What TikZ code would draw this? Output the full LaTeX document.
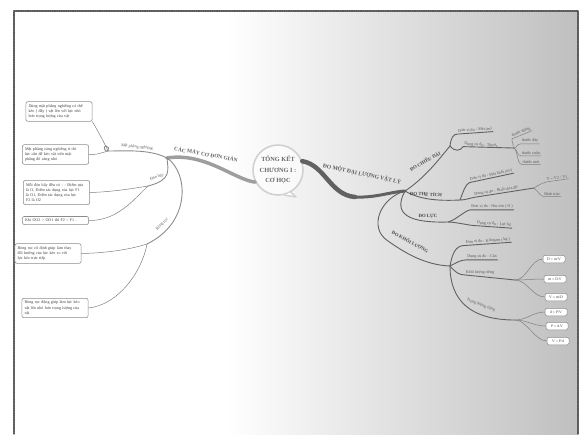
\documentclass[tikz,border=0pt]{standalone}
\usepackage{fontspec}
\setmainfont{Liberation Serif}
\begin{document}
\begin{tikzpicture}[x=1pt, y=-1pt, line join=round, line cap=round,
    ghichu/.style={draw=black!45, fill=white, rounded corners=2pt, line width=0.6pt, text width=61pt, align=left, inner sep=2.6pt, font=\fontsize{4.1}{5.3}\selectfont, text=black!75},
    congthuc/.style={draw=black!45, fill=white, rounded corners=1.5pt, line width=0.5pt, inner sep=1.5pt, minimum width=22pt, minimum height=7.5pt, font=\fontsize{3.8}{4}\selectfont, text=black!75},
    nhanh/.style={font=\fontsize{4.8}{5}\selectfont\bfseries, text=black!72, inner sep=0.6pt},
    nhan/.style={font=\fontsize{4.1}{4.6}\selectfont, text=black!65, inner sep=0.8pt},
    duong/.style={draw=black!62, line width=0.9pt},
    la/.style={draw=black!50, line width=0.5pt}]
    \useasboundingbox (0,0) rectangle (580,434);
    \shade[left color=white, right color=black!25] (225,11) rectangle (578,434);
    \draw[black!65, line width=1.3pt, dash pattern=on 1pt off 0.8pt] (14,434) -- (14,11) -- (578,11) -- (578,434);

    \node[circle, draw=black!18, line width=1.6pt, fill=white, fill opacity=0.6, text opacity=1, minimum size=50pt, inner sep=0pt, align=center, font=\fontsize{6.3}{10.5}\selectfont\bfseries, text=black!60] (goc) at (278,170) {TỔNG KẾT\\CHƯƠNG I :\\CƠ HỌC};
    \draw[black!18, line width=1.4pt, fill=white] (goc.-60) -- (296,197) -- (goc.-76);

    % cac may co don gian
    \coordinate (trai) at (167,158);
    \draw[black!38, line width=3.5pt] (goc.208) .. controls (235,180) and (205,152) .. (trai);
    \node[nhanh, font=\fontsize{5.4}{6}\selectfont\bfseries, text=black!62, rotate=-10] (maycdg) at (206,154) {CÁC MÁY CƠ ĐƠN GIẢN};

    \node[ghichu] (hop1) at (59,111.5) {Dùng mặt phẳng nghiêng có thể\\kéo ( đẩy ) vật lên với lực nhỏ\\hơn trọng lượng của vật};
    \node[ghichu] (hop2) at (55.5,154.5) {Mặt phẳng càng nghiêng ít thì\\lực cần để kéo vật trên mặt\\phẳng đó càng nhỏ};
    \node[ghichu] (hop3) at (56.5,192.5) {Mỗi đòn bẩy đều có : - Điểm tựa\\là O, Điểm tác dụng của lực F1\\là O1, Điểm tác dụng của lực\\F2 là O2};
    \node[ghichu] (hop4) at (55.5,220.5) {Khi OO2 > OO1 thì F2 < F1 .};
    \node[ghichu] (hop5) at (48,253.5) {Ròng rọc cố định giúp làm thay\\đổi hướng của lực kéo so với\\lực kéo trực tiếp};
    \node[ghichu] (hop6) at (55,308) {Ròng rọc động giúp làm lực kéo\\vật lên nhỏ hơn trọng lượng của\\vật};

    \coordinate (mpn) at (108,151);
    \draw[duong, draw=black!45] (trai) .. controls (150,149) and (125,151) .. (mpn);
    \draw[duong, draw=black!45] (mpn) .. controls (104,152) and (103,146) .. (106,146) .. controls (108.5,146) and (109.5,149) .. (mpn);
    \node[nhan, rotate=-6] (mpnl) at (137,147) {Mặt phẳng nghiêng};
    \draw[la] (mpn) .. controls (102,138) and (96,128) .. (hop1.south east);
    \draw[la] (mpn) .. controls (98,154) and (94,155) .. (hop2.east);

    \coordinate (db) at (148,186);
    \draw[duong, draw=black!45] (trai) .. controls (168,170) and (172,180) .. (db);
    \node[nhan, rotate=18] (dbl) at (157,177) {Đòn bẩy};
    \draw[la] (db) .. controls (130,189) and (110,192) .. (hop3.east);
    \draw[la] (db) .. controls (135,198) and (118,221) .. (hop4.east);

    \coordinate (rr) at (147,244);
    \draw[duong, draw=black!45] (trai) .. controls (188,172) and (192,222) .. (rr);
    \node[nhan, rotate=45] (rrl) at (162,224) {Ròng rọc};
    \draw[la] (rr) .. controls (128,250) and (105,253) .. (hop5.east);
    \draw[la] (rr) .. controls (142,272) and (118,305) .. (hop6.east);

    % do mot dai luong vat ly
    \coordinate (phai) at (405,191);
    \draw[black!62, line width=4.5pt] (goc.20) .. controls (325,165) and (330,195) .. (355,197);
    \draw[black!62, line width=3pt] (355,197) .. controls (375,198) and (390,192) .. (phai);
    \node[nhanh, font=\fontsize{5.6}{6}\selectfont\bfseries, text=black!65, rotate=-12] (domot) at (362,174) {ĐO MỘT ĐẠI LƯỢNG VẬT LÝ};

    \coordinate (cd) at (450,146);
    \draw[duong] (phai) .. controls (425,178) and (440,158) .. (cd);
    \node[nhanh, rotate=29] (cdl) at (425,161) {ĐO CHIỀU DÀI};
    \node[nhan, rotate=4] (cd1) at (475,130) {Đơn vị đo : Mét (m)};
    \draw[duong] (cd) .. controls (451,138) and (453,134) .. (cd1.south west) -- (cd1.south east);
    \coordinate (cdt) at (513,148);
    \node[nhan, rotate=-4] (cd2) at (481,145) {Dụng cụ đo : Thước};
    \draw[duong] (cd) .. controls (455,152) and (460,151) .. (cd2.south west) -- (cdt);
    \node[nhan, rotate=22] (t1) at (521,132) {thước thẳng};
    \node[nhan] (t2) at (530,141) {thước dây};
    \node[nhan] (t3) at (531,153) {thước cuộn};
    \node[nhan] (t4) at (531,162) {thước mét};
    \draw[la] (cdt) .. controls (514,143) and (511,141) .. (t1.south west) -- (t1.south east);
    \foreach \t in {t2,t3,t4}
        \draw[la] (cdt) .. controls +(5,0) and +(-5,0) .. (\t.south west) -- (\t.south east);

    \coordinate (tt) at (460,200);
    \draw[duong] (phai) .. controls (420,200) and (440,201) .. (tt);
    \node[nhanh, rotate=-3] (ttl) at (426,194) {ĐO THỂ TÍCH};
    \node[nhan, rotate=12] (tt1) at (491,175) {Đơn vị đo : Mét khối (m³)};
    \draw[duong] (tt) .. controls (464,190) and (465,185) .. (tt1.south west) -- (tt1.south east);
    \coordinate (ttb) at (534,188);
    \node[nhan, rotate=9] (tt2) at (496,191) {Dụng cụ đo : Bình chia độ};
    \draw[duong] (tt) .. controls +(5,0) and +(-5,1) .. (tt2.south west) -- (ttb);
    \node[nhan, rotate=8] (v1) at (557,178) {V = V2 - V1};
    \node[nhan] (v2) at (552,194) {Bình tràn};
    \draw[la] (ttb) .. controls +(4,-3) and +(-3,1) .. (v1.south west) -- (v1.south east);
    \draw[la] (ttb) .. controls +(4,3) and +(-3,0) .. (v2.south west) -- (v2.south east);

    \coordinate (dl) at (448,222);
    \draw[duong] (phai) .. controls (392,215) and (410,223) .. (dl);
    \node[nhanh] (dll) at (428,216) {ĐO LỰC};
    \node[nhan] (dl1) at (492,207) {Đơn vị đo : Niu tơn ( N )};
    \draw[duong] (dl) .. controls +(8,-2) and +(-6,1) .. (dl1.south west) -- (dl1.south east);
    \node[nhan, rotate=-4] (dl2) at (494,224) {Dụng cụ đo : Lực kế};
    \draw[duong] (dl) .. controls +(8,0) and +(-6,0) .. (dl2.south west) -- (dl2.south east);

    \coordinate (kl) at (450,266);
    \draw[duong] (phai) .. controls (380,198) and (368,228) .. (388,241) .. controls (405,253) and (425,265) .. (kl);
    \node[nhanh, rotate=-28] (kll) at (410,242) {ĐO KHỐI LƯỢNG};
    \node[nhan, rotate=4] (kl1) at (488,241) {Đơn vị đo : Kilogam ( kg )};
    \draw[duong] (kl) .. controls (452,255) and (455,245) .. (kl1.south west) -- (kl1.south east);
    \node[nhan] (kl2) at (482,257) {Dụng cụ đo : Cân};
    \draw[duong] (kl) .. controls +(6,-3) and +(-6,0) .. (kl2.south west) -- (kl2.south east);
    \coordinate (klr) at (515,280);
    \node[nhan] (kl3) at (480,272) {Khối lượng riêng};
    \draw[duong] (kl) .. controls +(5,6) and +(-6,0) .. (kl3.south west) -- (klr);
    \node[congthuc] (f1) at (554,259) {D = m/V};
    \node[congthuc] (f2) at (555,279) {m = D.V};
    \node[congthuc] (f3) at (556,297) {V = m/D};
    \foreach \f in {f1,f2,f3}
        \draw[la] (klr) .. controls +(12,0) and +(-12,0) .. (\f.west);

    \coordinate (tlr) at (515,320);
    \draw[duong] (kl) .. controls (450,300) and (470,320) .. (tlr);
    \node[nhan, rotate=-20] (kl4) at (481,305) {Trọng lượng riêng};
    \node[congthuc] (g1) at (556,312) {d = P/V};
    \node[congthuc] (g2) at (557,326) {P = d.V};
    \node[congthuc] (g3) at (558,341) {V = P/d};
    \foreach \g in {g1,g2,g3}
        \draw[la] (tlr) .. controls +(12,0) and +(-12,0) .. (\g.west);
\end{tikzpicture}
\end{document}
